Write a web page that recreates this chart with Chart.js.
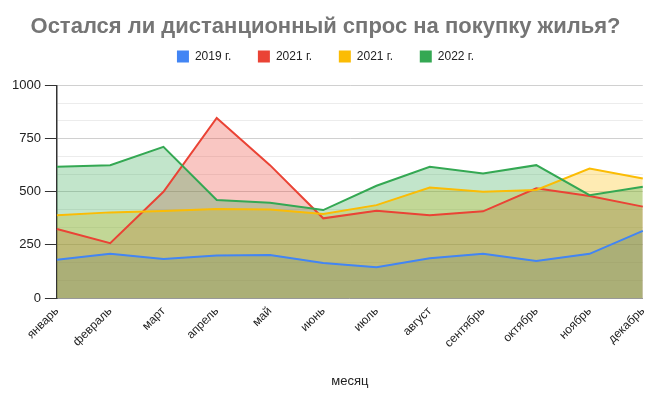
<!DOCTYPE html>
<html>
<head>
<meta charset="utf-8">
<script src="https://cdn.jsdelivr.net/npm/chart.js@4"></script>
<style>
  html, body { margin: 0; padding: 0; background: #fff; }
  #wrap { width: 659px; height: 400px; }
</style>
</head>
<body>
<div id="wrap"><canvas id="demandChart" width="659" height="400"></canvas></div>
<script>
// данные по месяцам
const months = ['январь','февраль','март','апрель','май','июнь','июль','август','сентябрь','октябрь','ноябрь','декабрь'];
const seriesNames = ['2019 г.', '2021 г.', '2021 г.', '2022 г.'];
const y2019 = [180, 208, 184, 200, 203, 165, 145, 187, 208, 175, 208, 316];
const y2021a = [325, 258, 500, 847, 625, 375, 411, 390, 408, 516, 480, 430];
const y2021b = [390, 403, 409, 419, 417, 395, 437, 520, 500, 508, 609, 562];
const y2022 = [617, 625, 711, 461, 448, 414, 528, 617, 586, 625, 484, 523];
const yTicks = [0, 250, 500, 750, 1000];

const colors = ['#4285f4', '#ea4335', '#fbbc04', '#34a853'];
const fills = ['rgba(66,133,244,0.3)', 'rgba(234,67,53,0.3)', 'rgba(251,188,4,0.3)', 'rgba(52,168,83,0.3)'];

const FONT = "'Liberation Sans', Arial, sans-serif";

function makeSet(i, values){
    return {
        label: seriesNames[i],
        data: values,
        borderColor: colors[i],
        backgroundColor: fills[i],
        borderWidth: 2,
        pointRadius: 0,
        tension: 0,
        fill: 'origin',
        order: 4 - i   // 2022 рисуется сверху
    }
}

const isMajor = v => yTicks.some(t => Math.abs(t - v) < 0.01);

// немного места между легендой и графиком
const legendGap = {
    id: 'legendGap',
    beforeInit(chart){
        const fit = chart.legend.fit;
        chart.legend.fit = function(){
            fit.call(this);
            this.height += 13;
        };
    }
};

new Chart(document.getElementById('demandChart'), {
    type: 'line',
    data: {
        labels: months,
        datasets: [makeSet(0, y2019), makeSet(1, y2021a), makeSet(2, y2021b), makeSet(3, y2022)]
    },
    plugins: [legendGap],
    options: {
        responsive: false,
        animation: false,
        layout: { padding: { left: 8, right: 16, top: 8, bottom: 7 } },
        plugins: {
            filler: { drawTime: 'beforeDatasetsDraw' },
            title: {
                display: true,
                text: 'Остался ли дистанционный спрос на покупку жилья?',
                color: '#757575',
                font: { family: FONT, size: 22, weight: 'bold' },
                padding: { top: 6, bottom: 0 }
            },
            legend: {
                labels: {
                    color: '#222',
                    font: { family: FONT, size: 12 },
                    boxWidth: 12,
                    boxHeight: 12,
                    padding: 10,
                    sort: (a, b) => a.datasetIndex - b.datasetIndex,
                    generateLabels: function(chart){
                        const items = Chart.defaults.plugins.legend.labels.generateLabels(chart);
                        items.forEach(it => {
                            it.fillStyle = colors[it.datasetIndex];
                            it.strokeStyle = colors[it.datasetIndex];
                            it.lineWidth = 0;
                            if (it.datasetIndex < 3) it.text += '\u00a0\u00a0\u00a0\u00a0\u00a0';
                        });
                        return items;
                    }
                }
            },
            tooltip: { enabled: false }
        },
        scales: {
            x: {
                offset: false,
                grid: { display: false, drawTicks: false },
                border: { color: '#999' },
                ticks: {
                    color: '#222',
                    font: { family: FONT, size: 12 },
                    minRotation: 45,
                    maxRotation: 45,
                    autoSkip: false,
                    padding: 6
                },
                title: {
                    display: true,
                    text: 'месяц',
                    color: '#222',
                    font: { family: FONT, size: 13 },
                    padding: { top: 17 }
                }
            },
            y: {
                min: 0,
                max: 1000,
                afterBuildTicks: function(scale){
                    const t = [];
                    for (let k = 0; k <= 12; k++) t.push({ value: k * 1000 / 12 });
                    scale.ticks = t;
                },
                grid: {
                    color: ctx => isMajor(ctx.tick.value) ? '#d0d0d0' : '#ececec',
                    tickColor: ctx => isMajor(ctx.tick.value) ? '#333' : 'rgba(0,0,0,0)',
                    tickLength: 12
                },
                border: { color: '#333', width: 1.5 },
                ticks: {
                    color: '#222',
                    font: { family: FONT, size: 13 },
                    padding: 4,
                    autoSkip: false,
                    callback: v => isMajor(v) ? String(Math.round(v)) : ''
                }
            }
        }
    }
});
</script>
</body>
</html>
